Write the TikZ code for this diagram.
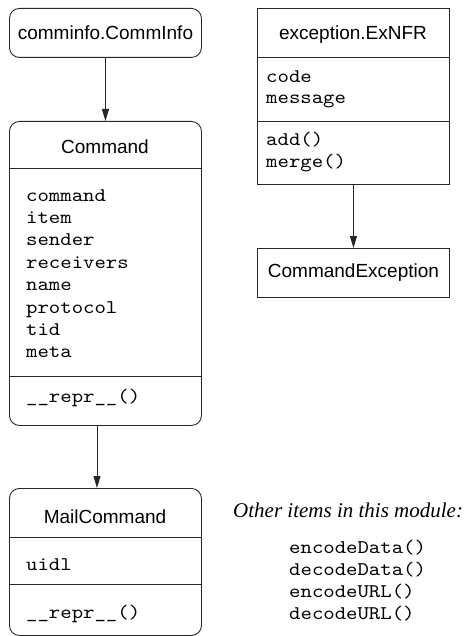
\documentclass[tikz,border=0pt]{standalone}
\usepackage{fontspec}
\setmainfont{Liberation Serif}
\setsansfont{Liberation Sans}
\setmonofont{lmmono10-regular.otf}[FakeStretch=1.125]
\usetikzlibrary{arrows.meta}
\tikzset{
  classbox/.style={draw=black!85, line width=0.9pt, minimum width=192pt,
    inner sep=0pt, anchor=north west, font=\sffamily\fontsize{19}{22}\selectfont},
  roundbox/.style={classbox, rounded corners=10pt},
  classtitle/.style={font=\sffamily\fontsize{19}{22}\selectfont, inner sep=0pt},
  member/.style={font=\ttfamily\fontsize{19.3}{22}\selectfont, anchor=base west, inner sep=0pt},
  divider/.style={draw=black!85, line width=0.9pt},
  link/.style={draw=black!85, line width=0.9pt, -{Triangle[length=12pt,width=7pt]}},
}
\begin{document}
\begin{tikzpicture}[x=1pt,y=1pt]
\useasboundingbox (0,0) rectangle (467,-636);

% --- comminfo.CommInfo ---
\node[roundbox, minimum height=49pt] (comminfo) at (9,-8) {comminfo.CommInfo};

% --- Command ---
\node[roundbox, minimum height=304pt] (command) at (9,-121) {};
\node[classtitle] (commandtitle) at (105,-147) {Command};
\draw[divider] (command.west |- 0,-168) -- (command.east |- 0,-168);
\foreach \name [count=\k from 0] in {command,item,sender,receivers,name,protocol,tid,meta}
  \node[member] (cattr\k) at (26,{-201-22.4*\k}) {\name};
\draw[divider] (command.west |- 0,-376.7) -- (command.east |- 0,-376.7);
\node[member] (crepr) at (26,-402) {\_\_repr\_\_()};

% --- MailCommand ---
\node[roundbox, minimum height=147pt] (mail) at (9,-488) {};
\node[classtitle] (mailtitle) at (105,-517) {MailCommand};
\draw[divider] (mail.west |- 0,-537) -- (mail.east |- 0,-537);
\node[member] (muidl) at (26,-570.5) {uidl};
\draw[divider] (mail.west |- 0,-584) -- (mail.east |- 0,-584);
\node[member] (mrepr) at (26,-618.5) {\_\_repr\_\_()};

% --- exception.ExNFR ---
\node[classbox, minimum height=176pt] (exc) at (257,-8) {};
\node[classtitle] (exctitle) at (353,-35) {exception.ExNFR};
\draw[divider] (exc.west |- 0,-57) -- (exc.east |- 0,-57);
\node[member] (ecode) at (266,-82.5) {code};
\node[member] (emsg) at (266,-104) {message};
\draw[divider] (exc.west |- 0,-121) -- (exc.east |- 0,-121);
\node[member] (eadd) at (266,-146) {add()};
\node[member] (emerge) at (266,-168) {merge()};

% --- CommandException ---
\node[classbox, minimum height=49pt] (cmdexc) at (257,-248) {CommandException};

% --- module-level functions ---
\node[anchor=base west, inner sep=0pt, font=\itshape\fontsize{21}{24}\selectfont]
  (others) at (233,-517) {Other items in this module:};
\foreach \name [count=\k from 0] in {encodeData(),decodeData(),encodeURL(),decodeURL()}
  \node[member] (func\k) at (289,{-553.5-22*\k}) {\name};

% --- inheritance links ---
\coordinate (lowlink) at (97,0);
\draw[link] (comminfo.south) -- (command.north);
\draw[link] (command.south -| lowlink) -- (mail.north -| lowlink);
\draw[link] (exc.south) -- (cmdexc.north);
\end{tikzpicture}
\end{document}
